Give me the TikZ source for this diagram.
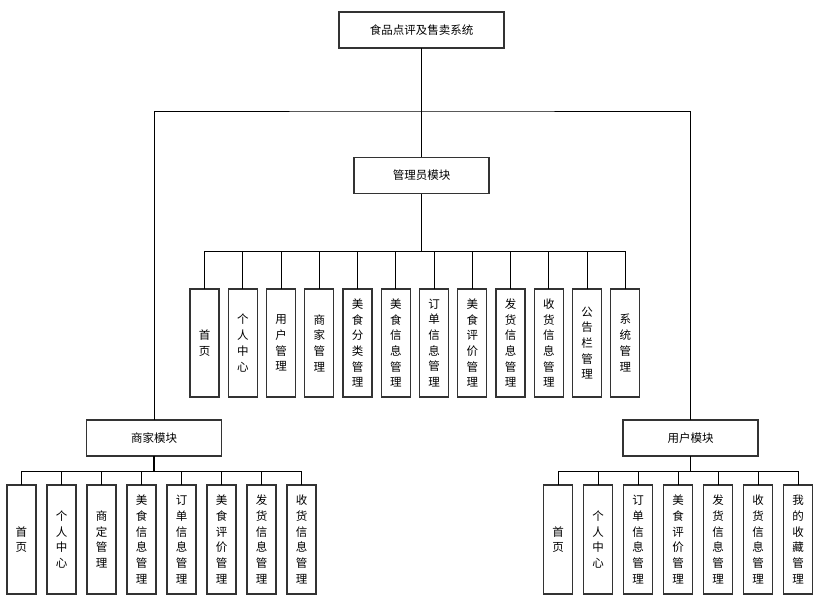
\documentclass[tikz,border=0pt]{standalone}
\usepackage{fontspec}
\setmainfont{Noto Sans CJK SC}
\usetikzlibrary{positioning}

\tikzset{
  modbox/.style={draw=black!80,line width=1.2pt,minimum width=135pt,minimum height=36pt,inner sep=0pt,font=\fontsize{11.5}{12}\selectfont},
  leafbox/.style={draw=black!80,line width=1.2pt,minimum width=29pt,minimum height=108pt,inner sep=0pt,align=center,font=\fontsize{11.5}{15.7}\selectfont},
  link/.style={black,line width=0.9pt}
}

\begin{document}
\begin{tikzpicture}[x=1pt,y=-1pt,line cap=rect]
\useasboundingbox (0,0) rectangle (826,615);
% root and module boxes
\node[modbox,minimum width=165pt] (sys) at (421.5,30) {食品点评及售卖系统};
\node[modbox] (admin) at (421.5,175.5) {管理员模块};
\node[modbox] (shop) at (154,438) {商家模块};
\node[modbox] (user) at (690.5,438) {用户模块};
\coordinate (hub) at (421.5,111);
\draw[link] (sys.south) -- (admin.north);
\draw[link] (shop.north) |- (hub) -| (user.north);
% admin leaves
\coordinate (abus) at (421.5,251);
\foreach \txt [count=\i from 0] in {首\\页,个\\人\\中\\心,用\\户\\管\\理,商\\家\\管\\理,美\\食\\分\\类\\管\\理,美\\食\\信\\息\\管\\理,订\\单\\信\\息\\管\\理,美\\食\\评\\价\\管\\理,发\\货\\信\\息\\管\\理,收\\货\\信\\息\\管\\理,公\\告\\栏\\管\\理,系\\统\\管\\理}{
  \node[leafbox] (a\i) at (204.5+\i*38.25,343) {\txt};
  \draw[link] (a\i.north) |- (abus);
}
\draw[link] (admin.south) -- (abus);
% shop leaves
\coordinate (sbus) at (154,471);
\foreach \txt [count=\i from 0] in {首\\页,个\\人\\中\\心,商\\定\\管\\理,美\\食\\信\\息\\管\\理,订\\单\\信\\息\\管\\理,美\\食\\评\\价\\管\\理,发\\货\\信\\息\\管\\理,收\\货\\信\\息\\管\\理}{
  \node[leafbox,minimum height=109pt] (s\i) at (21.5+\i*40,539.5) {\txt};
  \draw[link] (s\i.north) |- (sbus);
}
\draw[link,line width=1.6pt] (shop.south) -- (sbus);
% user leaves
\coordinate (ubus) at (690.5,471);
\foreach \txt [count=\i from 0] in {首\\页,个\\人\\中\\心,订\\单\\信\\息\\管\\理,美\\食\\评\\价\\管\\理,发\\货\\信\\息\\管\\理,收\\货\\信\\息\\管\\理,我\\的\\收\\藏\\管\\理}{
  \node[leafbox,minimum height=109pt] (u\i) at (558+\i*40,539.5) {\txt};
  \draw[link] (u\i.north) |- (ubus);
}
\draw[link,line width=1.6pt] (user.south) -- (ubus);
\end{tikzpicture}
\end{document}
